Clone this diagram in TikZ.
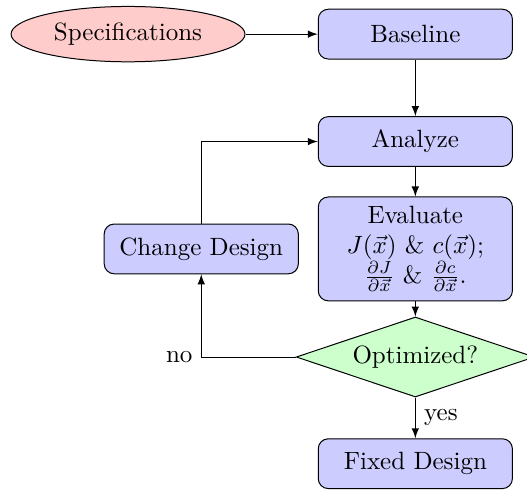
\documentclass[tikz,border=0pt]{standalone}
\usepackage{amsmath}
\usepackage{tikz}
\usetikzlibrary{arrows,shapes.geometric}

\begin{document}
\begin{tikzpicture}[
    block/.style={rectangle, draw, fill=blue!20, rounded corners, align=center, minimum width=2.73cm, minimum height=0.7cm},
    start/.style={ellipse, draw, fill=red!20, minimum width=3.29cm, minimum height=0.77cm},
    decision/.style={diamond, draw, fill=green!20, aspect=3, inner sep=0pt, minimum width=3.35cm, minimum height=1.125cm},
    line/.style={draw, -latex}]
                      \useasboundingbox (0,0) rectangle (7.41,-6.88);
                      \node [start] (spec) at (1.80,-0.48) {Specifications};
                      \node [block] (base) at (5.84,-0.48) {Baseline};
                      \node [block] (analyze) at (5.84,-1.99) {Analyze};
                      \node [block, minimum height=1.46cm] (eval) at (5.84,-3.50) {Evaluate\\ $J(\vec{x})$ \& $c(\vec{x})$;\\ $\frac{\partial J}{\partial \vec{x}}$ \& $\frac{\partial c}{\partial \vec{x}}$.};
                      \node [block] (change) at (2.83,-3.50) {Change Design};
                      \node [decision] (opt) at (5.84,-5.02) {Optimized?};
                      \node [block] (fixed) at (5.84,-6.52) {Fixed Design};
                      \path [line] (spec) -- (base);
                      \path [line] (base) -- (analyze);
                      \path [line] (analyze) -- (eval);
                      \path [line] (eval) -- (opt);
                      \path [line] (opt) -- node [right] {yes} (fixed);
                      \path [line] (opt) -| node [pos=0.5, left] {no} (change);
                      \path [line] (change) |- (analyze);
                  \end{tikzpicture}
\end{document}
